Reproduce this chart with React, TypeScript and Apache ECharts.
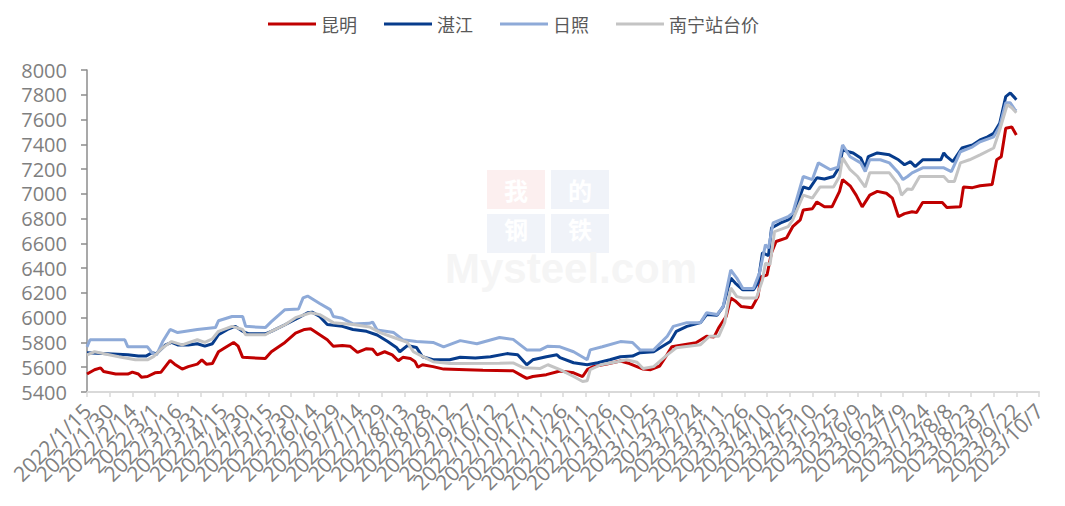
import React, { useEffect, useRef } from 'react';
import * as echarts from 'echarts';

const seriesNames = ['昆明', '湛江', '日照', '南宁站台价'];
const seriesColors = ['#c00000', '#073c8c', '#8eaad8', '#c4c4c4'];

const tickLabels = [
  '2022/1/15', '2022/1/30', '2022/2/14', '2022/3/1', '2022/3/16', '2022/3/31', '2022/4/15', '2022/4/30',
  '2022/5/15', '2022/5/30', '2022/6/14', '2022/6/29', '2022/7/14', '2022/7/29', '2022/8/13', '2022/8/28',
  '2022/9/12', '2022/9/27', '2022/10/12', '2022/10/27', '2022/11/11', '2022/11/26', '2022/12/11', '2022/12/26',
  '2023/1/10', '2023/1/25', '2023/2/9', '2023/2/24', '2023/3/11', '2023/3/26', '2023/4/10', '2023/4/25',
  '2023/5/10', '2023/5/25', '2023/6/9', '2023/6/24', '2023/7/9', '2023/7/24', '2023/8/8', '2023/8/23',
  '2023/9/7', '2023/9/22', '2023/10/7',
];
const yMin = 5400;
const yMax = 8000;
const yStep = 200;

const kunming: [string, number][] = [
  ['2022/1/15', 5545], ['2022/1/20', 5580], ['2022/1/24', 5595], ['2022/1/26', 5565], ['2022/2/3', 5545],
  ['2022/2/11', 5545], ['2022/2/14', 5560], ['2022/2/18', 5545], ['2022/2/20', 5520], ['2022/2/24', 5525],
  ['2022/3/1', 5555], ['2022/3/5', 5560], ['2022/3/11', 5655], ['2022/3/14', 5625], ['2022/3/19', 5585],
  ['2022/3/23', 5605], ['2022/3/29', 5625], ['2022/4/1', 5660], ['2022/4/4', 5625], ['2022/4/8', 5630],
  ['2022/4/12', 5725], ['2022/4/16', 5755], ['2022/4/22', 5800], ['2022/4/25', 5770], ['2022/4/28', 5680],
  ['2022/5/13', 5670], ['2022/5/17', 5725], ['2022/5/26', 5800], ['2022/6/2', 5875], ['2022/6/8', 5905],
  ['2022/6/12', 5910], ['2022/6/18', 5862], ['2022/6/23', 5822], ['2022/6/27', 5770], ['2022/7/3', 5775],
  ['2022/7/8', 5770], ['2022/7/13', 5720], ['2022/7/19', 5750], ['2022/7/23', 5745], ['2022/7/26', 5700],
  ['2022/7/31', 5725], ['2022/8/5', 5700], ['2022/8/9', 5652], ['2022/8/12', 5680], ['2022/8/17', 5670],
  ['2022/8/20', 5647], ['2022/8/22', 5600], ['2022/8/25', 5620], ['2022/9/1', 5605], ['2022/9/8', 5585],
  ['2022/9/23', 5580], ['2022/10/4', 5575], ['2022/10/24', 5572], ['2022/10/30', 5530], ['2022/11/2', 5510],
  ['2022/11/6', 5525], ['2022/11/15', 5540], ['2022/11/24', 5570], ['2022/12/3', 5555], ['2022/12/9', 5525],
  ['2022/12/12', 5580], ['2022/12/16', 5605], ['2022/12/25', 5625], ['2023/1/3', 5650], ['2023/1/9', 5630],
  ['2023/1/18', 5585], ['2023/1/23', 5580], ['2023/1/29', 5610], ['2023/2/2', 5685], ['2023/2/6', 5765],
  ['2023/2/13', 5780], ['2023/2/22', 5797], ['2023/3/1', 5850], ['2023/3/6', 5845], ['2023/3/9', 5918],
  ['2023/3/14', 6010], ['2023/3/17', 6160], ['2023/3/20', 6135], ['2023/3/24', 6090], ['2023/3/31', 6080],
  ['2023/4/4', 6170], ['2023/4/6', 6330], ['2023/4/10', 6345], ['2023/4/13', 6525], ['2023/4/16', 6615],
  ['2023/4/23', 6645], ['2023/4/27', 6735], ['2023/5/2', 6790], ['2023/5/4', 6870], ['2023/5/10', 6880],
  ['2023/5/13', 6935], ['2023/5/18', 6895], ['2023/5/23', 6895], ['2023/5/28', 7020], ['2023/5/30', 7115],
  ['2023/6/4', 7065], ['2023/6/8', 6990], ['2023/6/12', 6895], ['2023/6/17', 6990], ['2023/6/22', 7020],
  ['2023/6/28', 7005], ['2023/7/2', 6965], ['2023/7/6', 6815], ['2023/7/10', 6840], ['2023/7/15', 6855],
  ['2023/7/18', 6850], ['2023/7/22', 6930], ['2023/8/4', 6930], ['2023/8/7', 6890], ['2023/8/16', 6895],
  ['2023/8/18', 7055], ['2023/8/24', 7050], ['2023/8/29', 7065], ['2023/9/6', 7075], ['2023/9/9', 7275],
  ['2023/9/12', 7300], ['2023/9/15', 7530], ['2023/9/19', 7540], ['2023/9/22', 7475],
];

const zhanjiang: [string, number][] = [
  ['2022/1/15', 5717], ['2022/2/11', 5700], ['2022/2/18', 5690], ['2022/2/23', 5690], ['2022/2/27', 5717],
  ['2022/3/2', 5710], ['2022/3/8', 5780], ['2022/3/12', 5800], ['2022/3/16', 5780], ['2022/3/23', 5780],
  ['2022/3/29', 5790], ['2022/4/3', 5770], ['2022/4/8', 5790], ['2022/4/12', 5862], ['2022/4/18', 5905],
  ['2022/4/23', 5930], ['2022/4/28', 5890], ['2022/5/2', 5870], ['2022/5/13', 5870], ['2022/5/17', 5890],
  ['2022/5/26', 5943], ['2022/6/4', 6000], ['2022/6/10', 6040], ['2022/6/13', 6045], ['2022/6/18', 6010],
  ['2022/6/23', 5945], ['2022/7/3', 5930], ['2022/7/10', 5905], ['2022/7/19', 5890], ['2022/7/26', 5860],
  ['2022/8/2', 5807], ['2022/8/8', 5757], ['2022/8/10', 5725], ['2022/8/15', 5775], ['2022/8/21', 5760],
  ['2022/8/25', 5685], ['2022/9/1', 5660], ['2022/9/12', 5660], ['2022/9/19', 5680], ['2022/9/29', 5675],
  ['2022/10/9', 5685], ['2022/10/20', 5710], ['2022/10/27', 5700], ['2022/11/2', 5620], ['2022/11/6', 5660],
  ['2022/11/15', 5685], ['2022/11/22', 5700], ['2022/11/24', 5677], ['2022/12/3', 5636], ['2022/12/12', 5620],
  ['2022/12/19', 5636], ['2022/12/27', 5660], ['2023/1/3', 5685], ['2023/1/11', 5690], ['2023/1/16', 5717],
  ['2023/1/25', 5725], ['2023/2/5', 5807], ['2023/2/9', 5890], ['2023/2/16', 5930], ['2023/2/25', 5960],
  ['2023/3/1', 6025], ['2023/3/8', 6020], ['2023/3/12', 6090], ['2023/3/17', 6320], ['2023/3/20', 6280],
  ['2023/3/25', 6225], ['2023/4/1', 6225], ['2023/4/4', 6280], ['2023/4/7', 6525], ['2023/4/11', 6500],
  ['2023/4/13', 6725], ['2023/4/19', 6765], ['2023/4/24', 6790], ['2023/4/27', 6815], ['2023/5/4', 7055],
  ['2023/5/8', 7040], ['2023/5/13', 7130], ['2023/5/18', 7120], ['2023/5/24', 7140], ['2023/5/28', 7220],
  ['2023/5/30', 7355], ['2023/6/3', 7340], ['2023/6/6', 7330], ['2023/6/11', 7290], ['2023/6/14', 7210],
  ['2023/6/16', 7300], ['2023/6/22', 7330], ['2023/6/30', 7315], ['2023/7/6', 7275], ['2023/7/10', 7235],
  ['2023/7/14', 7260], ['2023/7/17', 7220], ['2023/7/22', 7275], ['2023/8/3', 7275], ['2023/8/5', 7330],
  ['2023/8/7', 7300], ['2023/8/11', 7260], ['2023/8/17', 7370], ['2023/8/24', 7395], ['2023/8/29', 7435],
  ['2023/9/3', 7460], ['2023/9/7', 7490], ['2023/9/11', 7570], ['2023/9/15', 7785], ['2023/9/18', 7815],
  ['2023/9/21', 7775], ['2023/9/22', 7760],
];

const rizhao: [string, number][] = [
  ['2022/1/15', 5765], ['2022/1/17', 5822], ['2022/2/9', 5822], ['2022/2/11', 5765], ['2022/2/24', 5765],
  ['2022/2/27', 5717], ['2022/3/2', 5700], ['2022/3/6', 5805], ['2022/3/11', 5905], ['2022/3/16', 5880],
  ['2022/3/29', 5905], ['2022/4/10', 5920], ['2022/4/12', 5975], ['2022/4/21', 6010], ['2022/4/28', 6010],
  ['2022/4/30', 5930], ['2022/5/13', 5920], ['2022/5/17', 5968], ['2022/5/26', 6065], ['2022/6/4', 6070],
  ['2022/6/7', 6160], ['2022/6/10', 6175], ['2022/6/18', 6115], ['2022/6/25', 6065], ['2022/6/27', 6010],
  ['2022/7/3', 5995], ['2022/7/10', 5950], ['2022/7/21', 5955], ['2022/7/23', 5965], ['2022/7/26', 5900],
  ['2022/8/6', 5880], ['2022/8/12', 5822], ['2022/8/21', 5807], ['2022/9/1', 5800], ['2022/9/8', 5765],
  ['2022/9/19', 5815], ['2022/9/30', 5790], ['2022/10/15', 5840], ['2022/10/24', 5825], ['2022/11/2', 5740],
  ['2022/11/11', 5740], ['2022/11/16', 5770], ['2022/11/24', 5765], ['2022/12/3', 5725], ['2022/12/12', 5660],
  ['2022/12/14', 5740], ['2022/12/22', 5765], ['2023/1/3', 5807], ['2023/1/11', 5800], ['2023/1/16', 5740],
  ['2023/1/25', 5740], ['2023/2/3', 5850], ['2023/2/7', 5930], ['2023/2/16', 5960], ['2023/2/25', 5960],
  ['2023/3/1', 6040], ['2023/3/8', 6025], ['2023/3/12', 6090], ['2023/3/17', 6385], ['2023/3/21', 6320],
  ['2023/3/25', 6235], ['2023/4/1', 6235], ['2023/4/5', 6360], ['2023/4/9', 6590], ['2023/4/11', 6560],
  ['2023/4/14', 6765], ['2023/4/24', 6815], ['2023/4/27', 6845], ['2023/5/4', 7140], ['2023/5/10', 7115],
  ['2023/5/14', 7250], ['2023/5/22', 7195], ['2023/5/27', 7215], ['2023/5/30', 7395], ['2023/6/4', 7300],
  ['2023/6/11', 7250], ['2023/6/14', 7180], ['2023/6/17', 7275], ['2023/6/24', 7275], ['2023/6/30', 7250],
  ['2023/7/6', 7170], ['2023/7/9', 7115], ['2023/7/12', 7140], ['2023/7/15', 7170], ['2023/7/22', 7210],
  ['2023/8/5', 7210], ['2023/8/10', 7180], ['2023/8/16', 7340], ['2023/8/24', 7380], ['2023/8/29', 7420],
  ['2023/9/7', 7460], ['2023/9/11', 7545], ['2023/9/15', 7735], ['2023/9/18', 7735], ['2023/9/21', 7680],
  ['2023/9/22', 7670],
];

const nanning: [string, number][] = [
  ['2022/1/15', 5700], ['2022/1/20', 5725], ['2022/2/5', 5685], ['2022/2/16', 5660], ['2022/2/24', 5660],
  ['2022/2/28', 5685], ['2022/3/6', 5757], ['2022/3/12', 5807], ['2022/3/19', 5780], ['2022/3/29', 5822],
  ['2022/4/3', 5800], ['2022/4/8', 5830], ['2022/4/12', 5890], ['2022/4/21', 5930], ['2022/4/28', 5905],
  ['2022/4/30', 5862], ['2022/5/13', 5862], ['2022/5/17', 5890], ['2022/5/26', 5943], ['2022/6/2', 6000],
  ['2022/6/12', 6040], ['2022/6/18', 6025], ['2022/6/27', 5960], ['2022/7/10', 5945], ['2022/7/21', 5925],
  ['2022/7/28', 5880], ['2022/8/6', 5840], ['2022/8/15', 5800], ['2022/8/19', 5725], ['2022/8/23', 5700],
  ['2022/9/1', 5645], ['2022/9/12', 5630], ['2022/10/15', 5632], ['2022/10/24', 5635], ['2022/10/31', 5595],
  ['2022/11/11', 5590], ['2022/11/16', 5620], ['2022/11/24', 5580], ['2022/12/3', 5525], ['2022/12/9', 5485],
  ['2022/12/12', 5490], ['2022/12/14', 5580], ['2022/12/21', 5620], ['2023/1/1', 5645], ['2023/1/7', 5660],
  ['2023/1/14', 5640], ['2023/1/18', 5590], ['2023/1/25', 5605], ['2023/2/3', 5700], ['2023/2/9', 5757],
  ['2023/2/25', 5782], ['2023/3/3', 5850], ['2023/3/9', 5850], ['2023/3/13', 5960], ['2023/3/17', 6240],
  ['2023/3/21', 6170], ['2023/3/25', 6160], ['2023/4/3', 6160], ['2023/4/7', 6305], ['2023/4/9', 6440],
  ['2023/4/12', 6430], ['2023/4/15', 6695], ['2023/4/24', 6735], ['2023/4/27', 6790], ['2023/5/4', 6990],
  ['2023/5/10', 6965], ['2023/5/15', 7055], ['2023/5/24', 7055], ['2023/5/28', 7140], ['2023/5/30', 7290],
  ['2023/6/4', 7195], ['2023/6/9', 7140], ['2023/6/14', 7055], ['2023/6/17', 7170], ['2023/6/30', 7170],
  ['2023/7/6', 7075], ['2023/7/8', 6990], ['2023/7/12', 7040], ['2023/7/15', 7035], ['2023/7/20', 7140],
  ['2023/8/5', 7140], ['2023/8/8', 7100], ['2023/8/12', 7100], ['2023/8/16', 7250], ['2023/8/22', 7275],
  ['2023/8/29', 7315], ['2023/9/7', 7370], ['2023/9/11', 7515], ['2023/9/16', 7720], ['2023/9/19', 7695],
  ['2023/9/22', 7655],
];

const seriesData = [kunming, zhanjiang, rizhao, nanning];

const DAY = 86400000;
function toUTC(s: string) {
  const [y, m, d] = s.split('/').map(Number);
  return Date.UTC(y, m - 1, d);
}
function dayIndex(s: string) {
  return Math.round((toUTC(s) - toUTC(tickLabels[0])) / DAY);
}

export default function App() {
  const ref = useRef<HTMLDivElement>(null);
  useEffect(() => {
    document.body.style.margin = '0';
    if (!ref.current) return;
    const chart = echarts.init(ref.current, null, { renderer: 'svg' });
    const wmBox = (x: number, y: number, w: number, h: number, fill: string, ch: string, dy: number) => ({
      type: 'group',
      z: 0,
      silent: true,
      children: [
        { type: 'rect', shape: { x, y, width: w, height: h }, style: { fill } },
        {
          type: 'text',
          x: x + w / 2,
          y: y + h / 2 + dy,
          style: {
            text: ch,
            fill: '#ffffff',
            fontSize: 24,
            fontWeight: 'bold',
            fontFamily: 'Noto Sans CJK SC',
            align: 'center',
            verticalAlign: 'middle',
          },
        },
      ],
    });
    chart.setOption({
      animation: false,
      backgroundColor: '#ffffff',
      graphic: [
        wmBox(487, 170, 58, 39, '#fcefef', '我', 0),
        wmBox(551, 170, 58, 39, '#f0f3f9', '的', 0),
        wmBox(487, 214, 58, 39, '#f0f3f9', '钢', -5),
        wmBox(551, 214, 58, 39, '#f0f3f9', '铁', -5),
        {
          type: 'text',
          z: 0,
          silent: true,
          x: 445,
          y: 247,
          style: {
            text: 'Mysteel.com',
            fill: '#f5f5f5',
            fontSize: 42,
            fontWeight: 'bold',
            fontFamily: 'Liberation Sans',
            align: 'left',
            verticalAlign: 'top',
          },
        },
      ],
      legend: {
        top: 10,
        left: 263,
        icon: 'rect',
        itemWidth: 48,
        itemHeight: 3,
        itemGap: 27,
        textStyle: { color: '#595959', fontSize: 18, fontFamily: 'Noto Sans CJK SC' },
        data: seriesNames,
      },
      grid: { left: 87, right: 26, top: 70, bottom: 114 },
      xAxis: [
        {
          type: 'category',
          data: tickLabels,
          boundaryGap: false,
          splitLine: { show: false },
          axisLine: { show: true, lineStyle: { color: '#d9d9d9', width: 2 } },
          axisTick: { show: true, interval: 0, length: 5, lineStyle: { color: '#d9d9d9', width: 1.5 } },
          axisLabel: {
            interval: 0,
            rotate: 45,
            margin: 15,
            color: '#808080',
            fontSize: 21,
            fontFamily: 'Open Sans',
          },
        },
        {
          type: 'value',
          show: false,
          min: 0,
          max: dayIndex(tickLabels[tickLabels.length - 1]),
          splitLine: { show: false },
        },
      ],
      yAxis: {
        type: 'value',
        min: yMin,
        max: yMax,
        interval: yStep,
        splitLine: { show: false },
        axisLine: { show: true, lineStyle: { color: '#8c8c8c', width: 1.5 } },
        axisTick: { show: true, length: 6, lineStyle: { color: '#8c8c8c', width: 1.5 } },
        axisLabel: {
          color: '#7f7f7f',
          fontSize: 20,
          fontFamily: 'Open Sans',
          margin: 20,
          formatter: (v: number) => String(v),
        },
      },
      series: seriesNames.map((name, i) => ({
        name,
        type: 'line',
        xAxisIndex: 1,
        showSymbol: false,
        symbol: 'none',
        color: seriesColors[i],
        itemStyle: { color: seriesColors[i] },
        lineStyle: { color: seriesColors[i], width: 3 },
        data: seriesData[i].map(([d, v]) => [dayIndex(d), v]),
      })),
    });
    return () => chart.dispose();
  }, []);
  return <div ref={ref} style={{ width: 1065, height: 506 }} />;
}
